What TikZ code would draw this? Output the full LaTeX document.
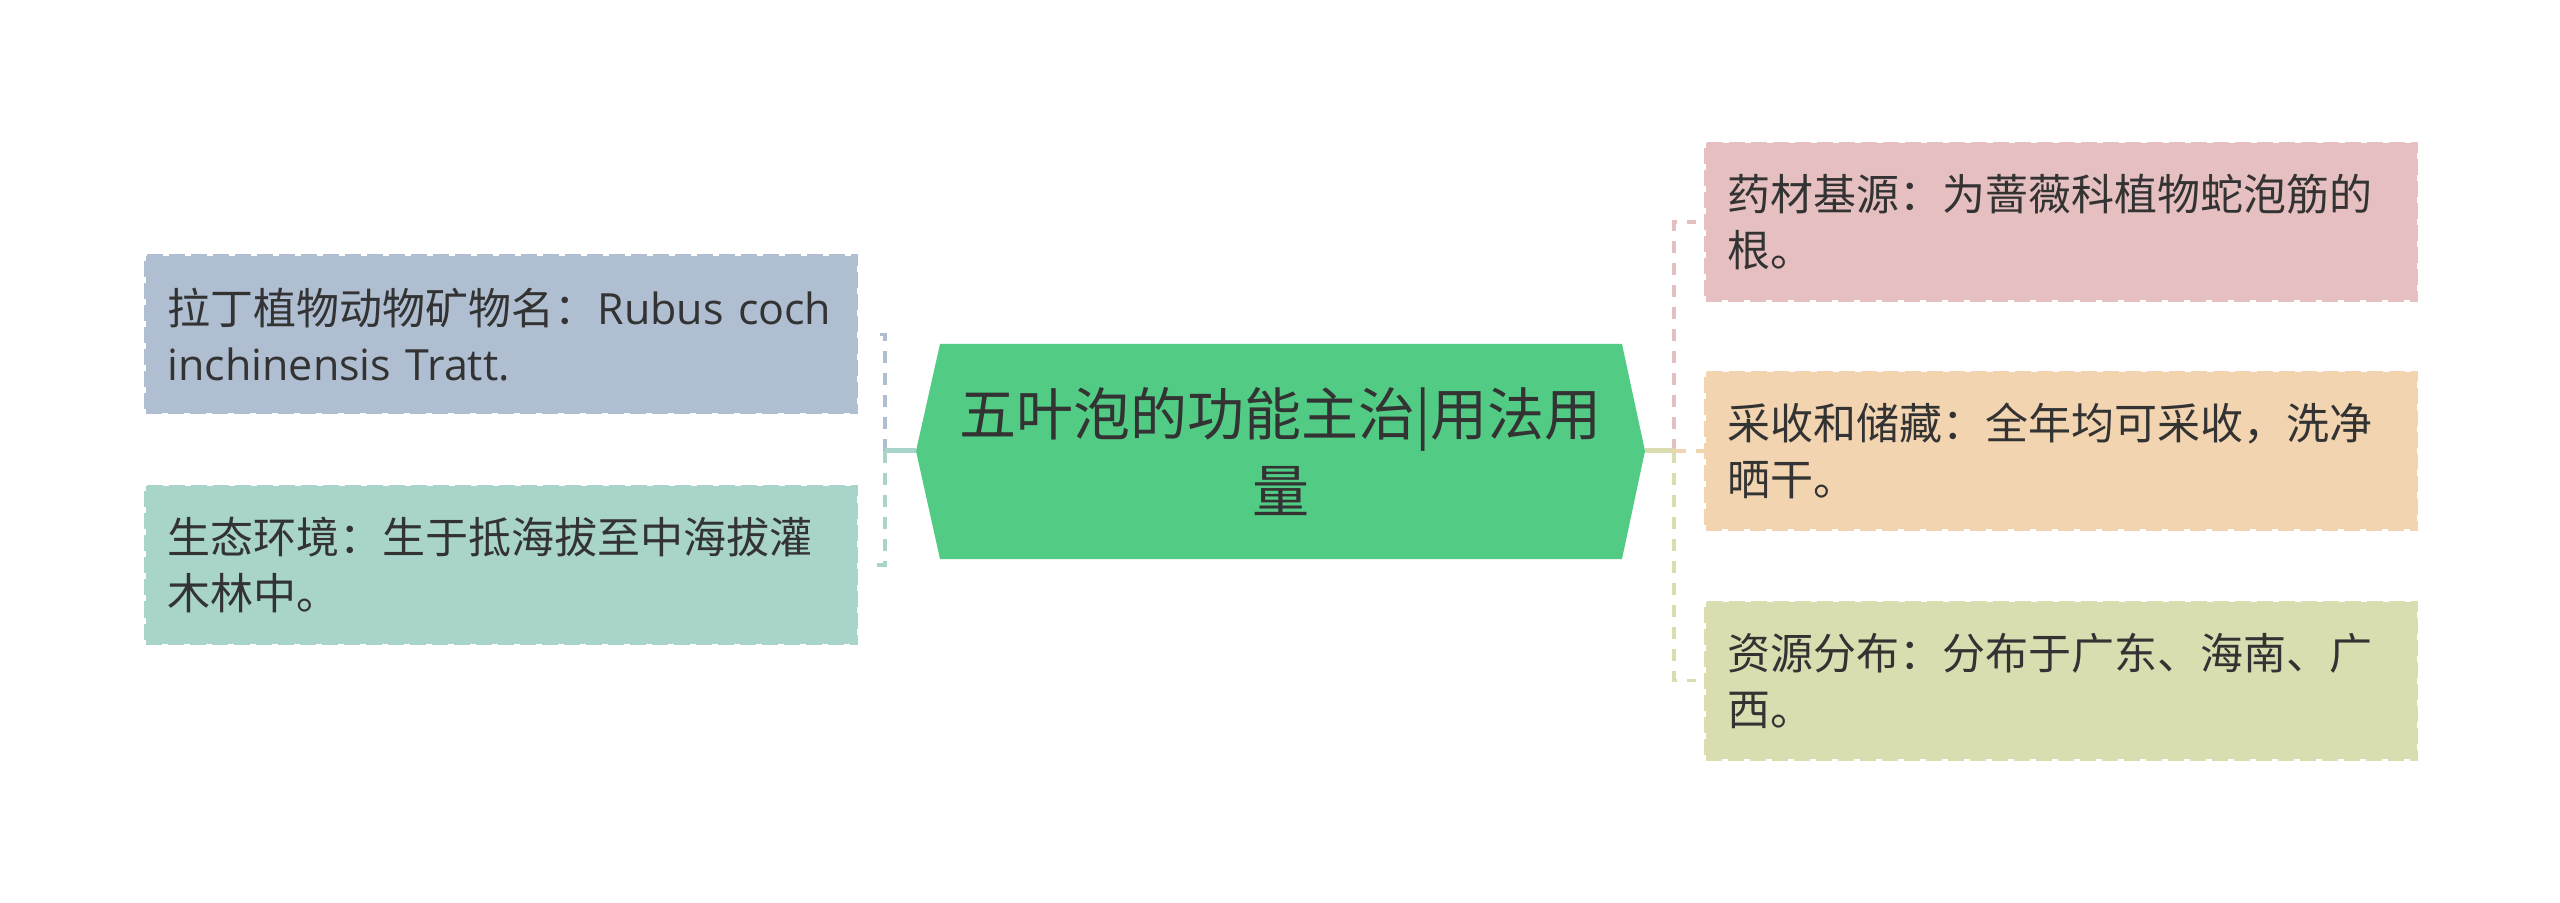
\documentclass[tikz,border=0pt]{standalone}
\usepackage{fontspec}
\setmainfont{Open Sans}
\newfontfamily\cjk{Noto Sans CJK SC}
\definecolor{cL1}{RGB}{175,190,208}
\definecolor{cL2}{RGB}{168,212,202}
\definecolor{cR1}{RGB}{230,192,192}
\definecolor{cR2}{RGB}{242,212,176}
\definecolor{cR3}{RGB}{217,221,176}
\definecolor{cC}{RGB}{82,204,132}
\definecolor{txt}{RGB}{51,51,51}
\tikzset{
  leaf/.style={fill=#1, draw=#1, line width=1.5pt, dash pattern=on 8pt off 3pt,
    minimum width=355.5pt, minimum height=78.5pt, text width=333.5pt,
    inner xsep=11pt, inner ysep=0pt, align=left, text=txt,
    font=\fontsize{21.5pt}{28pt}\selectfont},
  conn/.style={draw=#1, line width=1.7pt, dash pattern=on 6pt off 5pt},
  trunk/.style={draw=#1, line width=2.5pt},
}
\begin{document}
\begin{tikzpicture}[x=0.5pt,y=-0.5pt]
\useasboundingbox[fill=white] (0,0) rectangle (2560,903);
% centre
\path[fill=cC] (916,451) -- (940,344) -- (1622,344) -- (1645,451) -- (1622,559) -- (940,559) -- cycle;
\node[text=txt, align=center, font=\cjk\fontsize{28.5pt}{38.5pt}\selectfont] (c) at (1280.5,451.5) {五叶泡的功能主治|用法用\\量};
\coordinate (cl) at (916,451);
\coordinate (cr) at (1645,451);
\coordinate (lj) at (885,451);
\coordinate (rj) at (1674,451);
% leaves
\node[leaf=cL1, anchor=west] (L1) at (144,334.5) {{\cjk 拉丁植物动物矿物名：}Rubus~coch\\inchinensis Tratt.};
\node[leaf=cL2, anchor=west] (L2) at (144,565) {\cjk 生态环境：生于抵海拔至中海拔灌\\木林中。};
\node[leaf=cR1, anchor=west] (R1) at (1704,222) {\cjk 药材基源：为蔷薇科植物蛇泡筋的\\根。};
\node[leaf=cR2, anchor=west] (R2) at (1704,451) {\cjk 采收和储藏：全年均可采收，洗净\\晒干。};
\node[leaf=cR3, anchor=west] (R3) at (1704,680.5) {\cjk 资源分布：分布于广东、海南、广\\西。};
% connectors left
\draw[conn=cL1, shorten >=7pt] (lj) |- (L1.east);
\draw[conn=cL2, shorten >=7pt] (lj) |- (L2.east);
\draw[trunk=cL2] (cl) -- (lj);
% connectors right
\draw[conn=cR1, shorten >=4pt] (rj) |- (R1.west);
\draw[conn=cR3, shorten >=4pt] (rj) |- (R3.west);
\draw[conn=cR2] (rj) -- (R2.west);
\draw[trunk=cR3] (cr) -- (rj);
\end{tikzpicture}
\end{document}
